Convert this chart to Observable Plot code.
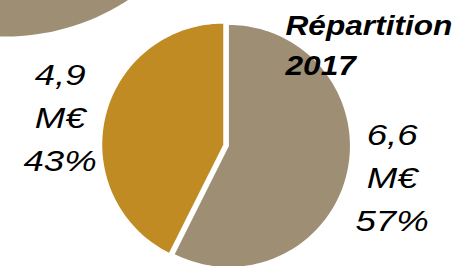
<!DOCTYPE html>
<html><head><meta charset="utf-8">
<script src="https://cdn.jsdelivr.net/npm/d3@7"></script>
<script src="https://cdn.jsdelivr.net/npm/@observablehq/plot@0.6"></script>
<style>body{margin:0;background:#fff;overflow:hidden} #chart{width:469px;height:266px}</style>
</head><body><div id="chart"></div>
<script>
// ---- data ----
const categories = ["Part 1", "Part 2"];
const amounts = [6.6, 4.9];          // M€
const amountLabels = ["6,6", "4,9"];
const shares = [57, 43];             // %
const titleLines = ["Répartition", "2017"];

// ---- style / layout ----
const colors = ["#9E8E74", "#C08B22"];
const W = 469, H = 266, PX = 121, CX = 225.6, CY = 144.8;
const explode = 0.024, labelR = 1.41;
const labelShiftY = [-10, 8];        // px nudges for label blocks
const bgDisc = {cx: -1.823, cy: 2.75, r: 1.851};

const table = categories.map((c, i) => ({key: c, value: amounts[i], label: `${amountLabels[i]}\nM€\n${shares[i]}%`}));
const arcs = d3.pie().sort(null).value(d => d.value)(table);

const polys = [];
const labels = [];
arcs.forEach((a, i) => {
  const mid = (a.startAngle + a.endAngle) / 2;
  const ox = explode * Math.sin(mid), oy = explode * Math.cos(mid);
  polys.push({key: a.data.key, x: ox, y: oy});
  const n = 120;
  for (let k = 0; k <= n; k++) {
    const t = a.startAngle + (a.endAngle - a.startAngle) * k / n;
    polys.push({key: a.data.key, x: ox + Math.sin(t), y: oy + Math.cos(t)});
  }
  labels.push({x: labelR * Math.sin(mid), y: labelR * Math.cos(mid) - labelShiftY[i] / PX, text: a.data.label});
});
const disc = d3.range(0, 361, 2).map(d => ({x: bgDisc.cx + bgDisc.r * Math.sin(d * Math.PI / 180), y: bgDisc.cy + bgDisc.r * Math.cos(d * Math.PI / 180)}));

const chart = Plot.plot({
  width: W, height: H, margin: 0,
  x: {domain: [-CX / PX, (W - CX) / PX], range: [0, W], axis: null},
  y: {domain: [-(H - CY) / PX, CY / PX], range: [H, 0], axis: null},
  color: {domain: categories, range: colors},
  marks: [
    Plot.line(disc, {x: "x", y: "y", fill: colors[0], stroke: "none", curve: "linear-closed"}),
    Plot.line(polys, {x: "x", y: "y", z: "key", fill: "key", stroke: "none", curve: "linear-closed"}),
    Plot.text(labels, {x: "x", y: "y", text: "text", fontSize: 30, fontStyle: "italic", fontFamily: "Liberation Sans, Arial, sans-serif", lineHeight: 1.43, fill: "#000"}),
    Plot.text([titleLines.join("\n")], {frameAnchor: "top-left", dx: 285, dy: 6, lineAnchor: "top", textAnchor: "start", fontSize: 28, fontWeight: "bold", fontStyle: "italic", fontFamily: "Liberation Sans, Arial, sans-serif", lineHeight: 1.43, fill: "#000"})
  ]
});
d3.select(chart).selectAll('g[aria-label="text"]').each(function(d, gi) {
  const s = gi === 0 ? 1.22 : 1.13;
  d3.select(this).selectAll("text").each(function() {
    this.setAttribute("transform", (this.getAttribute("transform") || "") + ` scale(${s},1)`);
  });
});
document.getElementById("chart").appendChild(chart);
</script>
</body></html>
